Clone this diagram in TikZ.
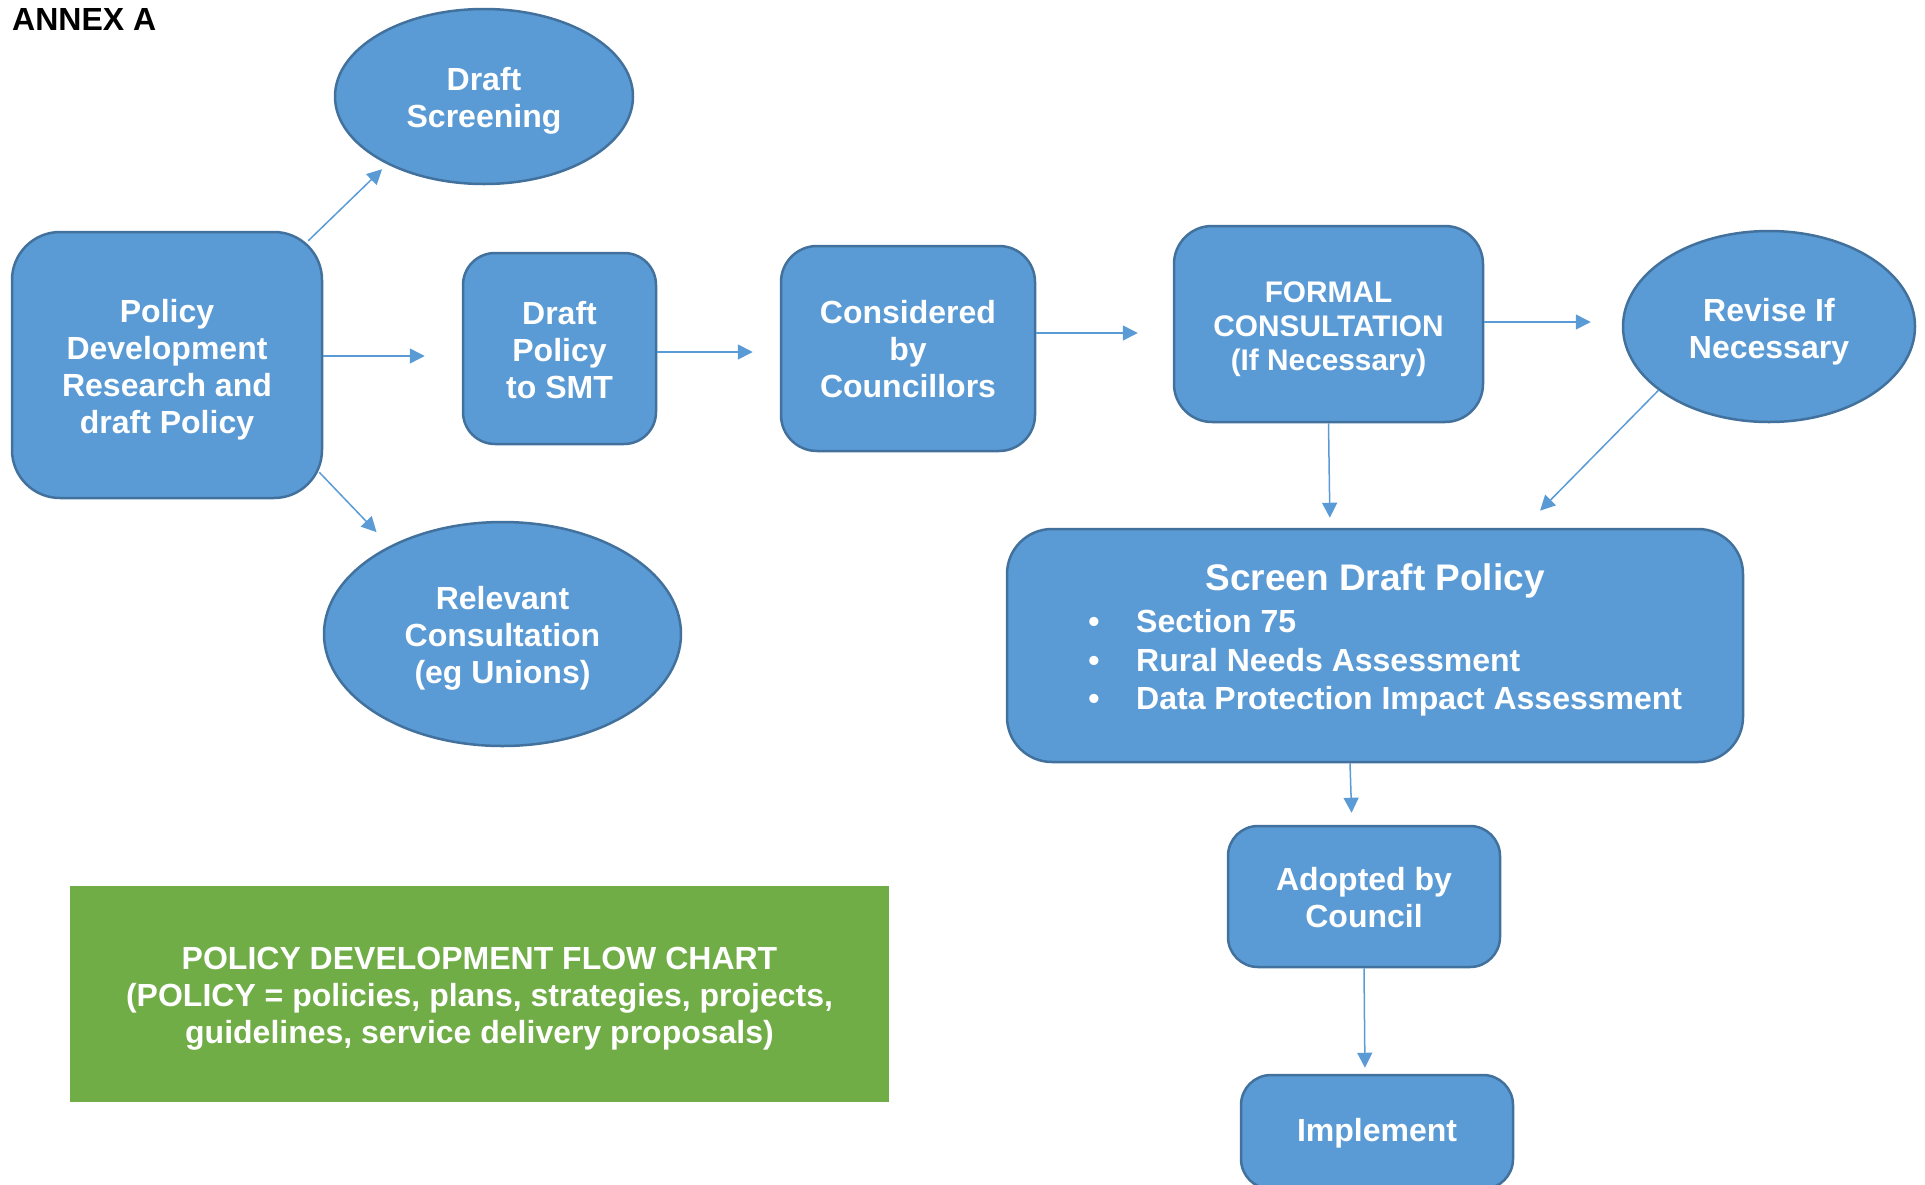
\documentclass[tikz,border=0pt]{standalone}
\usepackage{fontspec}
\setmainfont{Liberation Sans}
\usetikzlibrary{arrows.meta,shapes.geometric,calc}
\definecolor{boxblue}{HTML}{5B9BD5}
\definecolor{boxedge}{HTML}{41719C}
\definecolor{boxgreen}{HTML}{70AD47}
\begin{document}
\begin{tikzpicture}[x=1pt,y=-1pt,
  base/.style={fill=boxblue,draw=boxedge,line width=2.5pt,inner sep=0pt},
  rbox/.style={base,rectangle,rounded corners=#1},
  ell/.style={base,ellipse},
  txt/.style={text=white,font=\bfseries\fontsize{32}{37}\selectfont,inner sep=0pt,align=center},
  arr/.style={draw=boxblue,line width=1.5pt,-{Triangle[length=15pt,width=15pt]}},
]
\useasboundingbox (0,0) rectangle (1925,1184);

\node[anchor=base west,inner sep=0pt,font=\bfseries\fontsize{32}{37}\selectfont] (annex) at (12,30) {ANNEX A};

% shapes
\node[rbox=48pt,minimum width=310pt,minimum height=266pt] (pol) at (167,365) {};
\node[ell,minimum width=298pt,minimum height=175pt] (ds) at (484,96.5) {};
\node[rbox=32pt,minimum width=193pt,minimum height=191pt] (smt) at (559.5,348.5) {};
\node[rbox=36pt,minimum width=254pt,minimum height=205pt] (cons) at (908,348.5) {};
\node[rbox=38pt,minimum width=309pt,minimum height=196pt] (formal) at (1328.5,324) {};
\node[ell,minimum width=292pt,minimum height=191pt] (rev) at (1769,326.5) {};
\node[ell,minimum width=357pt,minimum height=224pt] (rel) at (502.5,634) {};
\node[rbox=45pt,minimum width=736pt,minimum height=233pt] (sdp) at (1375,645.5) {};
\node[rbox=30pt,minimum width=272pt,minimum height=141pt] (adopt) at (1364,896.5) {};
\node[rbox=30pt,minimum width=272pt,minimum height=114pt] (impl) at (1377,1132) {};
\node[fill=boxgreen,minimum width=819pt,minimum height=216pt,inner sep=0pt] (green) at (479.5,994) {};

% texts
\node[txt] (polt) at ([yshift=-5pt]pol.center) {Policy\\Development\\Research and\\draft Policy};
\node[txt] (dst) at ([yshift=-4pt]ds.center) {Draft\\Screening};
\node[txt] (smtt) at ([yshift=-1.5pt]smt.center) {Draft\\Policy\\to SMT};
\node[txt] (const) at ([yshift=-1pt]cons.center) {Considered\\by\\Councillors};
\node[txt,font=\bfseries\fontsize{29.8}{33.7}\selectfont] (formalt) at ([yshift=-5pt]formal.center) {FORMAL\\CONSULTATION\\(If Necessary)};
\node[txt] (revt) at ([yshift=-5pt]rev.center) {Revise If\\Necessary};
\node[txt] (relt) at ([yshift=-4pt]rel.center) {Relevant\\Consultation\\(eg Unions)};
\node[txt,anchor=base,font=\bfseries\fontsize{37}{42}\selectfont] (sdpt) at (1375,590) {Screen Draft Policy};
\node[txt,anchor=base] (b1) at (1094,632) {•};
\node[txt,anchor=base] (b2) at (1094,671) {•};
\node[txt,anchor=base] (b3) at (1094,709) {•};
\node[txt,anchor=base west] (l1) at (1136,632) {Section 75};
\node[txt,anchor=base west] (l2) at (1136,671) {Rural Needs Assessment};
\node[txt,anchor=base west] (l3) at (1136,709) {Data Protection Impact Assessment};
\node[txt] (adoptt) at ([yshift=-1pt]adopt.center) {Adopted by\\Council};
\node[txt] (implt) at ([yshift=-1pt]impl.center) {Implement};
\node[txt] (greent) at ([yshift=-5pt]green.center)
  {POLICY DEVELOPMENT FLOW CHART\\(POLICY = policies, plans, strategies, projects,\\guidelines, service delivery proposals)};

% connectors
\draw[arr,shorten >=7pt] ([xshift=-15pt,yshift=-10pt]pol.north east) -- (ds.215.6);
\draw[arr,shorten >=37pt] ([yshift=9pt]pol.east) -- ([yshift=-7.5pt]smt.west);
\draw[arr,shorten >=19pt] ([xshift=-4pt,yshift=27pt]pol.south east) -- (rel.142.7);
\draw[arr,shorten >=27pt] ([yshift=-3.5pt]smt.east) -- ([yshift=-3.5pt]cons.west);
\draw[arr,shorten >=35pt] ([yshift=15.5pt]cons.east) -- ([yshift=-9pt]formal.west);
\draw[arr,shorten >=31pt] ([yshift=2pt]formal.east) -- ([yshift=4.5pt]rev.west);
\draw[arr,shorten >=10pt] (formal.south) -- ([xshift=-45pt]sdp.north);
\draw[arr,shorten >=24pt] (rev.210) -- ([xshift=-221pt]sdp.north east);
\draw[arr,shorten >=12pt] ([xshift=-25pt]sdp.south) -- ([xshift=-12pt]adopt.north);
\draw[arr,shorten >=6pt] (adopt.south) -- ([xshift=-12pt]impl.north);
\end{tikzpicture}
\end{document}
